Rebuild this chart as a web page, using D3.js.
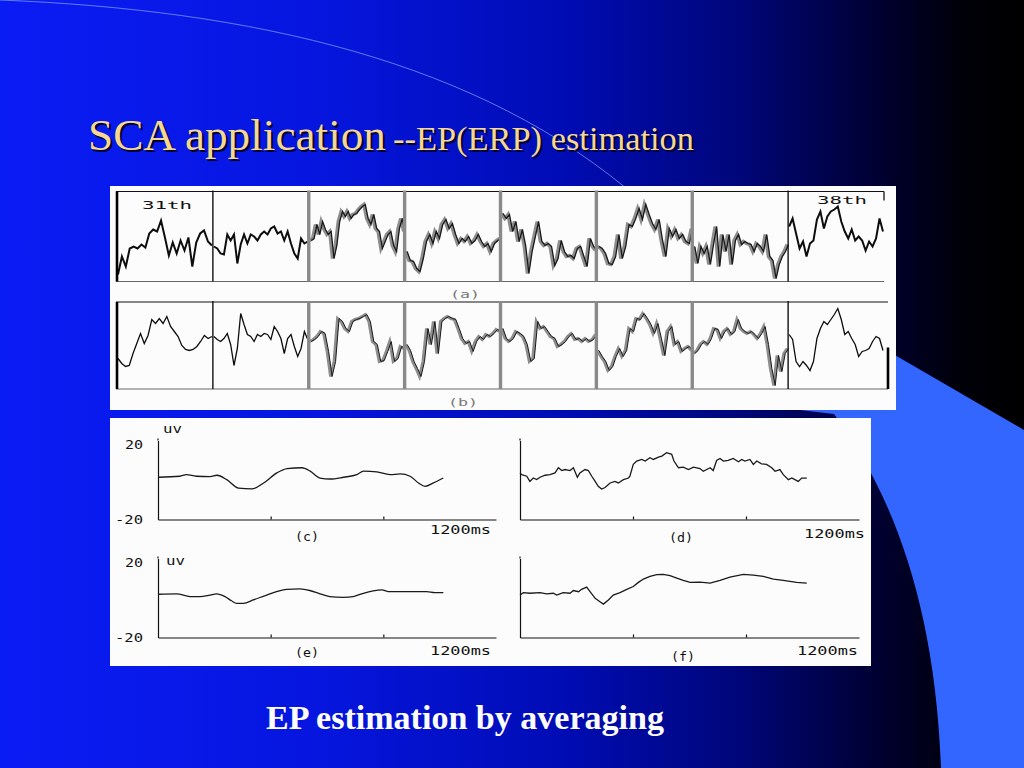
<!DOCTYPE html>
<html><head><meta charset="utf-8">
<script src="https://cdn.jsdelivr.net/npm/d3@7"></script>
<style>html,body{margin:0;padding:0;background:#000;}svg{display:block}</style>
</head><body>
<svg id="slide" width="1024" height="768"></svg>
<script>
// ---------------- DATA ----------------
const trials = ["31th","32th","33th","34th","35th","36th","37th","38th"];
const trialLabels = ["31th","38th"];

// (a) raw single trials, amplitude (µV), evenly sampled across each trial
const rawTrials = [
  [-38,-20,-30,-12,-10,-12,-8,-11,3,7,5,16,-1,-19,-6,-17,-4,-14,-1,-30,-6,3,6,-5,-9],
  [-10,-12,-17,-18,2,-4,2,-27,-8,2,-7,2,0,-4,2,5,2,8,10,3,5,-4,5,-7,-17,-22,-2,-7,-5],
  [-4,-2,12,2,15,7,2,5,-22,-9,15,25,20,25,18,22,23,27,30,32,18,12,22,8,5,-12,-5,2,5,-9,-15,8,18,5],
  [-15,-24,-25,-32,-35,-22,-5,2,-7,5,-2,12,17,8,13,2,-7,-2,-5,0,-7,-4,2,-5,-10,-7,-15,-7,-4,-2],
  [23,18,22,5,15,-5,7,-9,-37,-15,0,15,-5,-9,-7,-10,-29,-22,-4,-15,-20,-19,-22,-12,-10,-20,-30,-2,-10,-14],
  [-10,-12,-17,-27,-28,-20,2,-22,-10,12,10,18,28,17,32,22,13,7,17,-4,-20,8,0,7,-2,2,-5,-7,8],
  [-10,-27,-10,-17,-10,-28,-8,10,-30,2,-15,2,-28,-4,2,-8,-5,-7,-8,-15,-7,-10,-15,2,-20,-24,-42,-28,-20,-15,-8],
  [10,18,3,-12,-5,-20,-7,-4,17,25,8,20,25,27,30,15,5,-2,7,-4,0,-4,-14,-5,-10,-2,18,5]
];
// (b) SCA-estimated single trials
const estTrials = [
  [-13,-18,-21,-20,-8,2,12,2,10,26,22,27,22,29,19,14,9,0,-4,-5,-4,-1,4,10,7,9],
  [9,6,4,7,12,1,-20,-3,32,21,11,9,4,11,9,12,11,6,19,14,7,-8,7,11,-1,-11,-3,14,6],
  [4,6,9,14,12,-6,-31,-16,27,24,17,14,24,26,27,29,31,24,4,1,-16,-15,-6,4,-16,-13,-1,-3],
  [1,-5,-16,-23,-31,-16,17,1,24,-8,24,27,29,27,26,17,7,2,4,-6,4,9,6,11,9,12,16,14],
  [17,7,4,7,14,12,9,1,-16,-13,24,17,19,14,9,7,-1,1,4,9,12,6,7,4,7,4,6,11],
  [-5,-11,-16,-25,-21,-11,-3,-11,-5,17,14,27,26,32,27,21,12,22,7,-10,14,19,1,4,-6,-3,-1,-5],
  [-8,-5,1,4,1,7,17,16,7,14,17,11,14,26,17,14,12,14,11,7,12,19,1,-23,-40,-10,-26,-8,-3],
  [11,6,-16,-21,-16,-20,-25,-16,7,17,24,21,26,31,37,26,11,14,7,1,-11,-6,-5,-3,4,9,7,-5]
];

// averaged EPs: [time ms, amplitude µV]
const curveC = [[0,1.4],[77,1.9],[101,2.7],[136,1.9],[185,1.7],[209,2.4],[244,0.2],[286,-4.1],[333,-4.5],[375,-1.5],[422,3.6],[458,5.8],[511,6.2],[540,4.5],[575,1.0],[611,0.5],[659,1.4],[706,2.7],[730,4.5],[777,4.1],[824,2.7],[860,3.1],[895,1.9],[925,-1.5],[948,-3.2],[978,-1.5],[1013,1.0]];
const curveD = [[0,3.6],[6,2.7],[24,1.9],[35,-0.7],[47,1.0],[59,0.2],[71,1.4],[89,2.4],[106,2.7],[124,3.6],[136,6.2],[148,4.8],[159,5.3],[177,4.8],[189,6.2],[203,1.4],[212,3.6],[230,5.3],[242,4.8],[254,1.9],[266,-0.7],[277,-3.2],[289,-4.6],[301,-3.8],[319,-1.5],[336,-0.7],[348,-1.5],[366,0.2],[384,1.0],[389,1.9],[401,7.9],[413,9.6],[431,10.4],[443,9.6],[460,11.3],[472,10.4],[490,11.6],[502,12.1],[519,13.8],[537,13.0],[545,9.6],[561,6.2],[578,6.5],[596,5.3],[614,6.5],[637,5.8],[649,4.4],[673,6.2],[684,4.8],[696,9.9],[708,10.9],[720,9.6],[737,9.9],[755,10.9],[773,9.2],[785,10.4],[796,9.6],[814,10.4],[826,7.9],[838,9.6],[855,8.2],[873,7.9],[891,6.2],[903,4.4],[920,5.3],[932,2.7],[950,0.2],[962,1.0],[973,0.2],[985,-0.7],[997,1.0],[1015,1.0]];
const curveE = [[0,1.9],[66,2.1],[114,0.7],[149,0.7],[185,1.5],[208,2.1],[238,0.7],[261,-1.4],[279,-2.7],[303,-2.7],[338,-1.0],[386,1.5],[421,3.2],[457,4.4],[504,4.6],[539,3.8],[575,2.1],[610,0.7],[658,0.3],[693,0.7],[729,2.4],[764,3.6],[794,4.1],[823,3.2],[894,3.2],[954,3.2],[983,2.7],[1013,2.7]];
const curveF = [[0,1.5],[12,2.7],[35,2.4],[71,2.7],[94,2.1],[118,2.4],[130,1.5],[153,2.7],[177,2.4],[189,3.8],[207,3.2],[218,4.4],[236,5.5],[248,3.2],[266,-0.2],[283,-1.9],[295,-3.1],[313,-1.0],[330,1.5],[354,2.7],[378,4.4],[401,5.8],[419,7.9],[437,9.6],[460,10.9],[484,11.8],[507,12.0],[531,11.3],[555,10.1],[578,8.9],[602,7.9],[637,8.0],[673,7.5],[708,8.9],[743,10.6],[791,12.0],[826,11.6],[861,10.9],[897,9.6],[932,8.9],[979,7.9],[1015,7.5]];

const yTickValues = [20, -20];
const yTickLabels = ["20", "-20"];
const xTickValues = [400, 800];
const xEndLabel = "1200ms";
const unitLabel = "uv";
const panelLabels = ["(a)","(b)","(c)","(d)","(e)","(f)"];
const titleMain = "SCA application";
const titleSub = "--EP(ERP) estimation";
const caption = "EP estimation by averaging";

// ---------------- DRAWING ----------------
const svg = d3.select("#slide");
const W = 1024, H = 768;
const defs = svg.append("defs");
const grad = defs.append("linearGradient").attr("id","bg").attr("x1",0).attr("x2",1).attr("y1",0).attr("y2",0);
[[0,"#0a1cf4"],[0.3,"#0616e0"],[0.55,"#000cb4"],[0.72,"#00067a"],[0.86,"#000030"],[0.94,"#000008"],[1,"#000000"]]
  .forEach(([o,c]) => grad.append("stop").attr("offset",o).attr("stop-color",c));
svg.append("rect").attr("width",W).attr("height",H).attr("fill","url(#bg)");

// decorative background shapes
svg.append("path").attr("d","M800,410 L800,300 L1024,430 L1024,768 L941,768 C935,600 890,490 834,414 Z").attr("fill","#3366ff");
svg.append("path").attr("d","M0,0 C250,10 480,60 640,200").attr("fill","none")
  .attr("stroke","#7f9cff").attr("stroke-width",1).attr("opacity",0.75);

// title
function titleText(x, txt, size, len) {
  svg.append("text").attr("x",x+2).attr("y",152).attr("font-family","Liberation Serif, Times New Roman, serif")
    .attr("font-size",size).attr("fill","#00002a").attr("textLength",len).attr("lengthAdjust","spacingAndGlyphs").text(txt);
  svg.append("text").attr("x",x).attr("y",150).attr("font-family","Liberation Serif, Times New Roman, serif")
    .attr("font-size",size).attr("fill","#f6d890").attr("textLength",len).attr("lengthAdjust","spacingAndGlyphs").text(txt);
}
titleText(88, titleMain, 45, 298);
titleText(393, titleSub, 34, 301);

// caption
svg.append("text").attr("x",266).attr("y",729).attr("font-family","Liberation Serif, Times New Roman, serif")
  .attr("font-weight","bold").attr("font-size",33).attr("fill","#ffffff").attr("textLength",398)
  .attr("lengthAdjust","spacingAndGlyphs").text(caption);

// white panels
svg.append("rect").attr("x",110).attr("y",186).attr("width",786).attr("height",224).attr("fill","#fcfcfc");
svg.append("rect").attr("x",110).attr("y",418).attr("width",761).attr("height",248).attr("fill","#fcfcfc");

const mono = "DejaVu Sans Mono, Liberation Mono, monospace";
function label(x, y, txt, len, size, fill) {
  svg.append("text").attr("x",x).attr("y",y).attr("dominant-baseline","central")
    .attr("font-family",mono).attr("font-size",size||12).attr("fill",fill||"#111")
    .attr("textLength",len).attr("lengthAdjust","spacingAndGlyphs").text(txt);
}

// ---- (a) and (b) single-trial strips ----
const xs = d3.scaleBand().domain(trials).range([117, 884]);
const yA = d3.scaleLinear().domain([-45, 45]).range([281.5, 191.5]);
const yB = d3.scaleLinear().domain([-43.5, 43.5]).range([389, 302]);
const mixed = new Set(["33th","34th","35th","36th","37th"]);

function strip(data, y, heavy, rightEnd) {
  const g = svg.append("g");
  const [yb, yt] = y.range();
  const x0 = xs.range()[0], x1 = xs.range()[1];
  // traces
  data.forEach((vals, k) => {
    const t = trials[k];
    const bx = xs(t), bw = xs.bandwidth();
    const xi = d3.scaleLinear().domain([0, vals.length - 1]).range([bx + 1, bx + bw - 1]);
    const line = d3.line().x((d, i) => xi(i)).y(d => y(d));
    if (mixed.has(t)) {
      g.append("path").attr("d", line(vals)).attr("fill","none").attr("stroke","#8d8d8d")
        .attr("stroke-width", heavy ? 3.4 : 3).attr("stroke-linejoin","miter");
      g.append("path").attr("d", line(vals)).attr("transform","translate(1.5,0)").attr("fill","none")
        .attr("stroke","#1a1a1a").attr("stroke-width", heavy ? 1.3 : 1);
    } else {
      g.append("path").attr("d", line(vals)).attr("fill","none").attr("stroke","#0d0d0d")
        .attr("stroke-width", heavy ? 2 : 1.3);
    }
  });
  // frame
  g.append("line").attr("x1",x0-1).attr("x2",rightEnd).attr("y1",yt).attr("y2",yt).attr("stroke","#111").attr("stroke-width",1.2);
  g.append("line").attr("x1",x0-1).attr("x2",rightEnd).attr("y1",yb).attr("y2",yb).attr("stroke","#666").attr("stroke-width",1.2);
  g.append("line").attr("x1",x0).attr("x2",x0).attr("y1",yt).attr("y2",yb).attr("stroke","#000").attr("stroke-width",2.6);
  trials.slice(1).forEach((t, i) => {
    const blk = (i === 0 || i === 6);
    g.append("line").attr("x1",xs(t)).attr("x2",xs(t)).attr("y1",yt - 1).attr("y2",yb)
      .attr("stroke", blk ? "#111" : "#8a8a8a").attr("stroke-width", blk ? 1.4 : 3.4);
  });
  return g;
}
strip(rawTrials, yA, true, 884);
strip(estTrials, yB, false, 888);
// right-end marks
svg.append("line").attr("x1",884).attr("x2",884).attr("y1",yA(45)).attr("y2",yA(36)).attr("stroke","#111").attr("stroke-width",1.3);
svg.append("line").attr("x1",888).attr("x2",888).attr("y1",yB(-2)).attr("y2",yB(-43.5)).attr("stroke","#000").attr("stroke-width",2.6);

label(142, 205, trialLabels[0], 50, 10);
label(817, 200, trialLabels[1], 50, 10);
label(450, 294, panelLabels[0], 30, 10, "#777");
label(448, 402, panelLabels[1], 30, 10, "#777");

// ---- (c)-(f) averaged EPs ----
const plots = [
  {data: curveC, xr: [158, 496], yr: [519.5, 440.5], lab: panelLabels[2], labX: 295, labY: 537, endX: 430, endY: 530, yLabels: true, uv: [163, 429], smooth: true},
  {data: curveD, xr: [520, 859], yr: [519.5, 440.5], lab: panelLabels[3], labX: 669, labY: 538, endX: 804, endY: 534, yLabels: false, smooth: false},
  {data: curveE, xr: [158, 496], yr: [637.5, 558.5], lab: panelLabels[4], labX: 295, labY: 653, endX: 430, endY: 651, yLabels: true, uv: [166, 561], smooth: true},
  {data: curveF, xr: [520, 859], yr: [637.5, 558.5], lab: panelLabels[5], labX: 671, labY: 657, endX: 797, endY: 651, yLabels: false, smooth: false}
];

plots.forEach(p => {
  const x = d3.scaleLinear().domain([0, 1200]).range(p.xr);
  const y = d3.scaleLinear().domain([-20, 20]).range(p.yr);
  const g = svg.append("g");
  const xAxis = d3.axisBottom(x).tickValues(xTickValues).tickSize(-3).tickSizeOuter(0).tickFormat("");
  const ga = g.append("g").attr("transform", `translate(0,${y(-20)})`).call(xAxis);
  ga.selectAll("path,line").attr("stroke","#111").attr("stroke-width",1.2);
  const yAxis = d3.axisLeft(y).tickValues([]).tickSizeOuter(0);
  const gy = g.append("g").attr("transform", `translate(${x(0)},0)`).call(yAxis);
  gy.selectAll("path").attr("stroke","#111").attr("stroke-width",1.2);
  gy.append("line").attr("x1",0).attr("x2",0).attr("y1",y(20)).attr("y2",y(20)-2).attr("stroke","#111").attr("stroke-width",1.2);

  const line = d3.line().x(d => x(d[0])).y(d => y(d[1])).curve(p.smooth ? d3.curveMonotoneX : d3.curveLinear);
  g.append("path").attr("d", line(p.data)).attr("fill","none").attr("stroke","#1a1a1a").attr("stroke-width",1.3);

  if (p.yLabels) {
    label(125, y(yTickValues[0]) + 4, yTickLabels[0], 18);
    label(115, y(yTickValues[1]), yTickLabels[1], 28);
    label(p.uv[0], p.uv[1], unitLabel, 19);
  }
  label(p.labX, p.labY, p.lab, 24);
  label(p.endX, p.endY, xEndLabel, 61);
});
</script>
</body></html>
